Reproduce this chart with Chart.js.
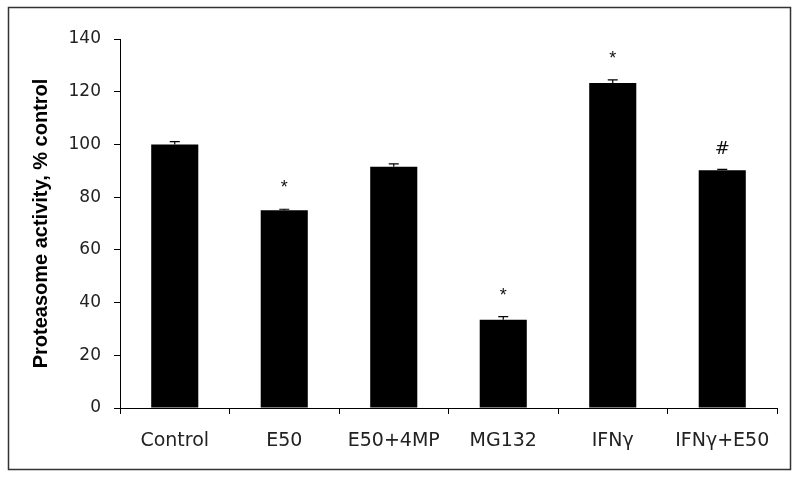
<!DOCTYPE html>
<html>
<head>
<meta charset="utf-8">
<script src="https://cdn.jsdelivr.net/npm/chart.js@4.4.0/dist/chart.umd.min.js"></script>
<style>
  html, body { margin: 0; padding: 0; background: #fff; }
  #grafico { display: block; }
</style>
</head>
<body>
<canvas id="grafico" width="800" height="480"></canvas>
<script>
// === Dados ===
const categorias = ["Control", "E50", "E50+4MP", "MG132", "IFNγ", "IFNγ+E50"];
const valores = [100, 75, 91.5, 33.5, 123.3, 90.2];
const erros = [1.1, 0.4, 1.1, 1.2, 1.2, 0.3];
const marcas = ["", "*", "", "*", "*", "#"];
const ticksY = [0, 20, 40, 60, 80, 100, 120, 140];

// moldura externa + barras de erro + marcas de significância
const extras = {
  id: "extras",
  afterDatasetsDraw(chart) {
    const { ctx, scales } = chart;
    const meta = chart.getDatasetMeta(0);
    ctx.save();
    ctx.strokeStyle = "#000";
    ctx.lineWidth = 1.2;
    meta.data.forEach((bar, i) => {
      const x = bar.x;
      const yTop = scales.y.getPixelForValue(valores[i]);
      const yErr = scales.y.getPixelForValue(valores[i] + erros[i]);
      ctx.beginPath();
      ctx.moveTo(x, yTop);
      ctx.lineTo(x, yErr);
      ctx.moveTo(x - 5, yErr);
      ctx.lineTo(x + 5, yErr);
      ctx.stroke();

      if (marcas[i]) {
        ctx.fillStyle = "#111";
        ctx.textAlign = "center";
        ctx.textBaseline = "middle";
        ctx.font = marcas[i] === "#" ? "18px 'DejaVu Sans'" : "18px 'Liberation Sans'";
        const dy = marcas[i] === "#" ? 20 : 21;
        ctx.fillText(marcas[i], x, yErr - dy);
      }
    });
    ctx.restore();
  },
  afterDraw(chart) {
    const ctx = chart.ctx;
    ctx.save();
    ctx.strokeStyle = "#333";
    ctx.lineWidth = 1.5;
    ctx.strokeRect(8.5, 7.5, 782, 462);
    ctx.restore();
  }
};

new Chart(document.getElementById("grafico"), {
  type: "bar",
  data: {
    labels: categorias,
    datasets: [{
      data: valores,
      backgroundColor: "#000",
      borderWidth: 0,
      barPercentage: 0.43,
      categoryPercentage: 1.0
    }]
  },
  options: {
    responsive: false,
    animation: false,
    layout: { padding: { top: 39, right: 23, left: 0, bottom: 0 } },
    plugins: {
      legend: { display: false },
      tooltip: { enabled: false }
    },
    scales: {
      x: {
        afterFit: s => { s.height = 72; },
        grid: { offset: true, drawOnChartArea: false, drawTicks: true, tickLength: 6, color: "#000" },
        border: { color: "#000", width: 1 },
        ticks: { color: "#222", font: { family: "DejaVu Sans", size: 19 }, padding: 16, maxRotation: 0 }
      },
      y: {
        min: 0,
        max: 140,
        afterFit: s => { s.width = 120; },
        afterBuildTicks: s => { s.ticks = ticksY.map(v => ({ value: v })); },
        grid: { drawOnChartArea: false, drawTicks: true, tickLength: 6, color: "#000" },
        border: { color: "#000", width: 1 },
        ticks: { color: "#222", font: { family: "DejaVu Sans", size: 17 }, padding: 13 },
        title: {
          display: true,
          text: "Proteasome activity, % control",
          color: "#000",
          font: { family: "Liberation Sans", size: 20, weight: "bold" },
          padding: { top: 29, bottom: 0 }
        }
      }
    }
  },
  plugins: [extras]
});
</script>
</body>
</html>
